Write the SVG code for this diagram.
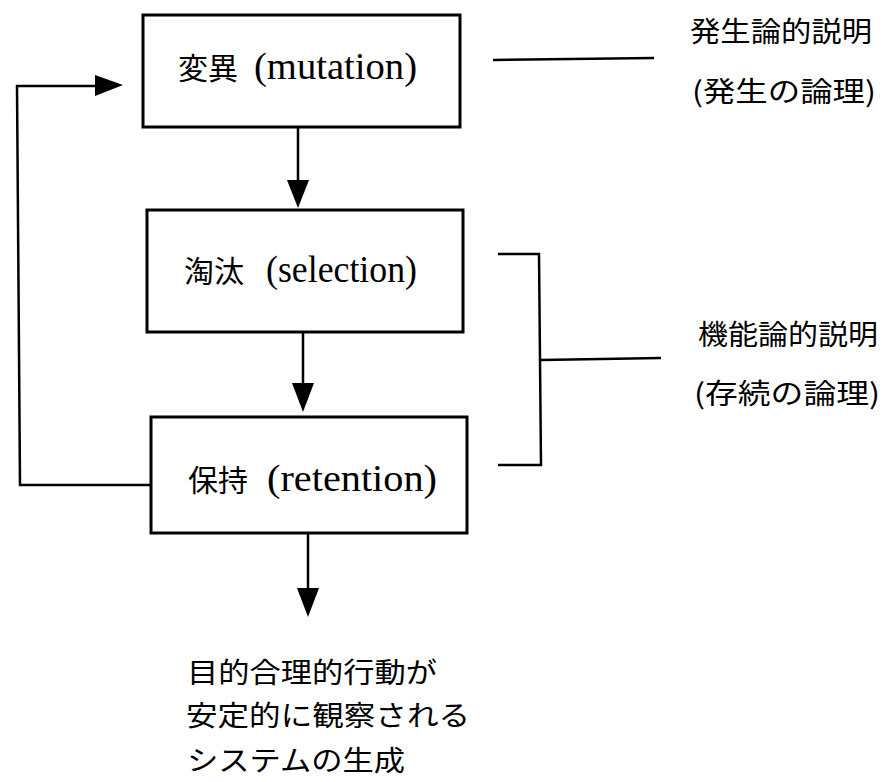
<svg xmlns="http://www.w3.org/2000/svg" width="896" height="782" viewBox="0 0 896 782">
<style>
.box{fill:#fff;stroke:#000;stroke-width:3}
.ln{fill:none;stroke:#000;stroke-width:2.5}
.cj{font-family:"Noto Sans CJK JP",sans-serif;font-size:30px;fill:#000}
.la{font-family:"Liberation Serif",serif;font-size:37px;fill:#000}
.jp{font-family:"Noto Sans CJK JP",sans-serif;font-size:28px;fill:#000}
</style>
<rect width="896" height="782" fill="#fff"/>
<g id="connectors">
<line class="ln" x1="298" y1="127" x2="298" y2="182"/>
<polygon points="287,180 309,180 298,208" fill="#000"/>
<line class="ln" x1="303" y1="332" x2="303" y2="385"/>
<polygon points="292,383 314,383 303,412" fill="#000"/>
<line class="ln" x1="308" y1="533" x2="308" y2="590"/>
<polygon points="297,588 319,588 308,617" fill="#000"/>
<polyline class="ln" points="151,485 20,485 17,86 97,86"/>
<polygon points="95,75 95,96 123,85" fill="#000"/>
<line class="ln" x1="493" y1="60" x2="654" y2="58"/>
<polyline class="ln" points="498,254 539,254 541,465 498,465"/>
<line class="ln" x1="541" y1="360" x2="661" y2="358"/>
</g>
<g id="mutation">
<rect class="box" x="143" y="15" width="317" height="112"/>
<text class="cj" x="178" y="79">変異</text>
<text class="la" x="254" y="79" textLength="163" lengthAdjust="spacingAndGlyphs">(mutation)</text>
</g>
<g id="selection">
<rect class="box" x="147" y="210" width="316" height="122"/>
<text class="cj" x="184" y="282">淘汰</text>
<text class="la" x="266" y="282" textLength="151" lengthAdjust="spacingAndGlyphs">(selection)</text>
</g>
<g id="retention">
<rect class="box" x="151" y="417" width="316" height="116"/>
<text class="cj" x="188" y="491">保持</text>
<text class="la" x="267" y="491" textLength="170" lengthAdjust="spacingAndGlyphs">(retention)</text>
</g>
<g id="genesis-label">
<text class="jp" x="690" y="42" textLength="182" lengthAdjust="spacingAndGlyphs">発生論的説明</text>
<text class="jp" x="692" y="102" textLength="184" lengthAdjust="spacingAndGlyphs">(発生の論理)</text>
</g>
<g id="function-label">
<text class="jp" x="698" y="345" textLength="180" lengthAdjust="spacingAndGlyphs">機能論的説明</text>
<text class="jp" x="694" y="404" textLength="186" lengthAdjust="spacingAndGlyphs">(存続の論理)</text>
</g>
<g id="outcome">
<text class="jp" x="187" y="683" textLength="250" lengthAdjust="spacingAndGlyphs">目的合理的行動が</text>
<text class="jp" x="186" y="726" textLength="284" lengthAdjust="spacingAndGlyphs">安定的に観察される</text>
<text class="jp" x="187" y="771" textLength="218" lengthAdjust="spacingAndGlyphs">システムの生成</text>
</g>
</svg>
